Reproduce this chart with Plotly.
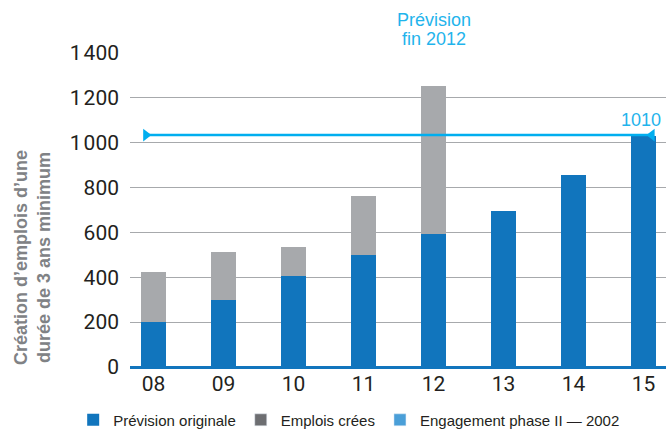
import plotly.graph_objects as go

categories = ["08", "09", "10", "11", "12", "13", "14", "15"]
prevision_originale = [202, 299, 406, 499, 592, 696, 855, 1032]
emplois_crees_total = [423, 512, 535, 761, 1255, None, None, None]
engagement_value = 1034
engagement_label = "1010"
y_tickvals = [0, 200, 400, 600, 800, 1000, 1200, 1400]
y_ticktext = ["0", "200", "400", "600", "800", "1\u200a000", "1\u200a200", "1\u200a400"]

BLUE = "#1175bd"
GRAY_BAR = "#a7a9ac"
GRAY_LEG = "#6d6e71"
LIGHT_BLUE = "#4a9fd8"
CYAN = "#00aeef"
CYAN_TXT = "#1fb4ec"
TXT = "#231f20"

xs = list(range(len(categories)))
bar_w = 25 / 70

fig = go.Figure()
fig.add_trace(go.Bar(x=xs, y=emplois_crees_total, width=bar_w, marker_color=GRAY_BAR,
                     marker_line_width=0, showlegend=False, name="Emplois crées"))
fig.add_trace(go.Bar(x=xs, y=prevision_originale, width=bar_w, marker_color=BLUE,
                     marker_line_width=0, name="Prévision originale"))
# legend-only entries
fig.add_trace(go.Bar(x=[None], y=[None], marker_color=GRAY_LEG, name="Emplois crées"))
fig.add_trace(go.Bar(x=[None], y=[None], marker_color=LIGHT_BLUE, name="Engagement phase II \u2014 2002"))

# engagement line
fig.add_trace(go.Scatter(
    x=[xs[0] - bar_w / 2 + 0.07, xs[-1] + bar_w / 2 - 0.06],
    y=[engagement_value, engagement_value],
    mode="lines+markers",
    line=dict(color=CYAN, width=2.5),
    marker=dict(symbol=["triangle-right", "triangle-left"], size=11, color=CYAN),
    showlegend=False, cliponaxis=False, hoverinfo="skip"))

fig.add_annotation(x=xs[-1], y=engagement_value, text=engagement_label, showarrow=False,
                   xanchor="center", yanchor="bottom", yshift=3, xshift=-3,
                   font=dict(family="Liberation Sans", size=18, color=CYAN_TXT))
fig.add_annotation(x=xs[4], xref="x", y=1.105, yref="paper", text="Prévision",
                   showarrow=False, xanchor="center", yanchor="middle",
                   font=dict(family="Liberation Sans", size=18, color=CYAN_TXT))
fig.add_annotation(x=xs[4], xref="x", y=1.045, yref="paper", text="fin 2012",
                   showarrow=False, xanchor="center", yanchor="middle",
                   font=dict(family="Liberation Sans", size=18, color=CYAN_TXT))
fig.add_annotation(x=-0.183, xref="paper", y=0.35, yref="paper",
                   text="<b>Création d\u2019emplois d\u2019une<br>durée de 3 ans minimum</b>",
                   textangle=-90, showarrow=False, xanchor="center", yanchor="middle",
                   font=dict(family="Liberation Sans", size=18, color="#808285"))

fig.update_layout(
    width=666, height=440,
    margin=dict(l=130, r=0, t=53, b=73),
    paper_bgcolor="white", plot_bgcolor="white",
    barmode="overlay", bargap=0,
    showlegend=True,
    legend=dict(orientation="h", x=-0.106, y=-0.169, xanchor="left", yanchor="middle",
                font=dict(family="Liberation Sans", size=15, color=TXT),
                itemclick=False, traceorder="normal"),
    xaxis=dict(range=[-0.336, 7.32], tickmode="array", tickvals=xs, ticktext=categories,
               showgrid=False, zeroline=False, showline=False, ticks="",
               tickfont=dict(family="Roboto", size=21, color=TXT), ticklabelstandoff=2),
    yaxis=dict(range=[0, 1400], tickmode="array", tickvals=y_tickvals, ticktext=y_ticktext,
               showgrid=True, gridcolor=GRAY_BAR, gridwidth=1.4,
               zeroline=True, zerolinecolor=BLUE, zerolinewidth=3,
               showline=False, ticks="",
               tickfont=dict(family="Roboto", size=21, color=TXT), ticklabelstandoff=10),
)

fig.write_html("out.html", config={"displayModeBar": False},
               post_script="document.body.style.margin='0';document.body.style.overflow='hidden';")
